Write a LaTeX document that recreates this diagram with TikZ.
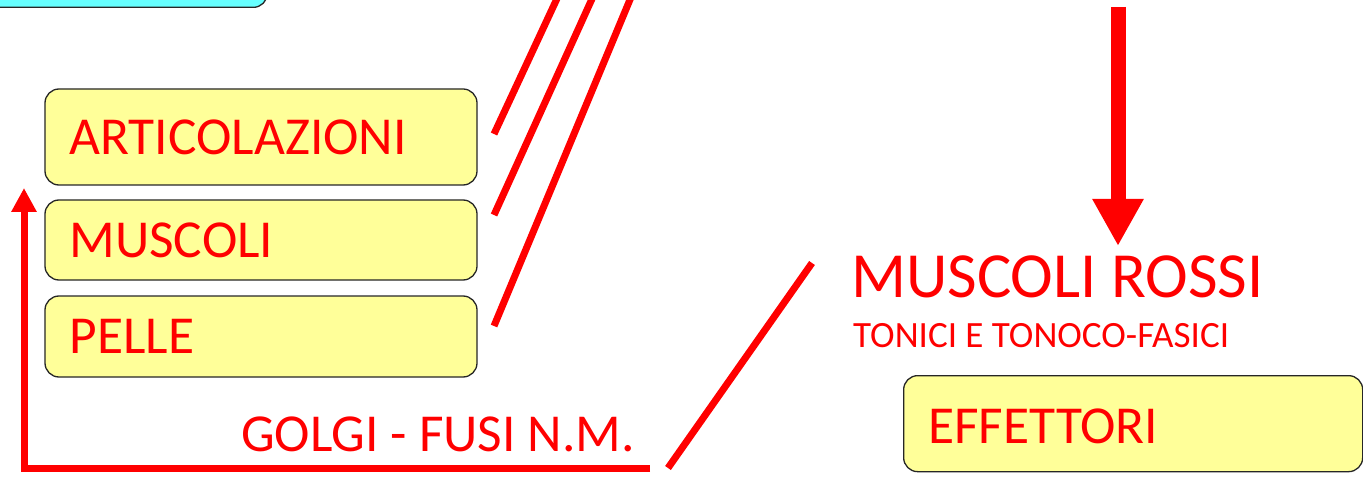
\documentclass[tikz,border=0pt]{standalone}
\usepackage{fontspec}
\setmainfont{Carlito}
\usetikzlibrary{arrows.meta}
\definecolor{fred}{HTML}{FF0000}
\definecolor{fyel}{HTML}{FFFF99}
\definecolor{fcyan}{HTML}{66FFFF}
\begin{document}
\begin{tikzpicture}[x=1bp,y=-1bp,
  box/.style={draw=black!85, line width=1.3bp, fill=fyel, rounded corners=14bp, minimum width=432bp, inner sep=0pt},
  lbl/.style={text=fred, inner sep=0pt, font=\fontsize{53.6}{60}\selectfont},
  redline/.style={draw=fred, line width=7bp}]
\useasboundingbox (0,0) rectangle (1363,477);
% partly visible cyan box at top left
\node[box, fill=fcyan, minimum width=400bp, minimum height=90bp, anchor=south east] (top) at (268,8) {};
% receptor boxes
\node[box, minimum height=96bp] (art) at (261,137) {};
\node[box, minimum height=80bp] (mus) at (261,240) {};
\node[box, minimum height=81bp] (pel) at (261,336.5) {};
\node[lbl, anchor=west] (artt) at ([xshift=25bp]art.west) {ARTICOLAZIONI};
\node[lbl, anchor=west] (must) at ([xshift=25bp]mus.west) {MUSCOLI};
\node[lbl, anchor=west] (pelt) at ([xshift=25bp]pel.west) {PELLE};
% effector box
\node[box, minimum width=459bp, minimum height=96bp, anchor=north west] (eff) at (903,375) {};
\node[lbl, anchor=base west] (efft) at (928,443) {EFFETTORI};
% texts
\node[lbl, anchor=base west] (golgi) at (241,451) {GOLGI - FUSI N.M.};
\node[lbl, anchor=base west, font=\fontsize{64.6}{70}\selectfont] (rossi) at (851,297) {MUSCOLI ROSSI};
\node[lbl, anchor=base west, font=\fontsize{37.2}{42}\selectfont] (tonici) at (853,347) {TONICI E TONOCO-FASICI};
% diagonal lines from receptors
\coordinate (a1) at (494,134); \coordinate (a2) at (561,-10);
\coordinate (b1) at (494,215); \coordinate (b2) at (596,-10);
\coordinate (c1) at (494,326); \coordinate (c2) at (634,-10);
\draw[redline] (a1) -- (a2);
\draw[redline] (b1) -- (b2);
\draw[redline] (c1) -- (c2);
% feedback arrow
\coordinate (g1) at (650,468); \coordinate (g2) at (24,468); \coordinate (g3) at (24,188);
\draw[redline, -{Triangle[width=24bp,length=24bp]}] (g1) -- (g2) -- (g3);
% diagonal to muscoli rossi
\coordinate (d1) at (668,468); \coordinate (d2) at (812,263);
\draw[redline] (d1) -- (d2);
% big down arrow
\coordinate (v1) at (1118,7); \coordinate (v2) at (1118,246);
\draw[draw=fred, line width=15bp, -{Triangle[width=48bp,length=47bp]}] (v1) -- (v2);
\end{tikzpicture}
\end{document}
